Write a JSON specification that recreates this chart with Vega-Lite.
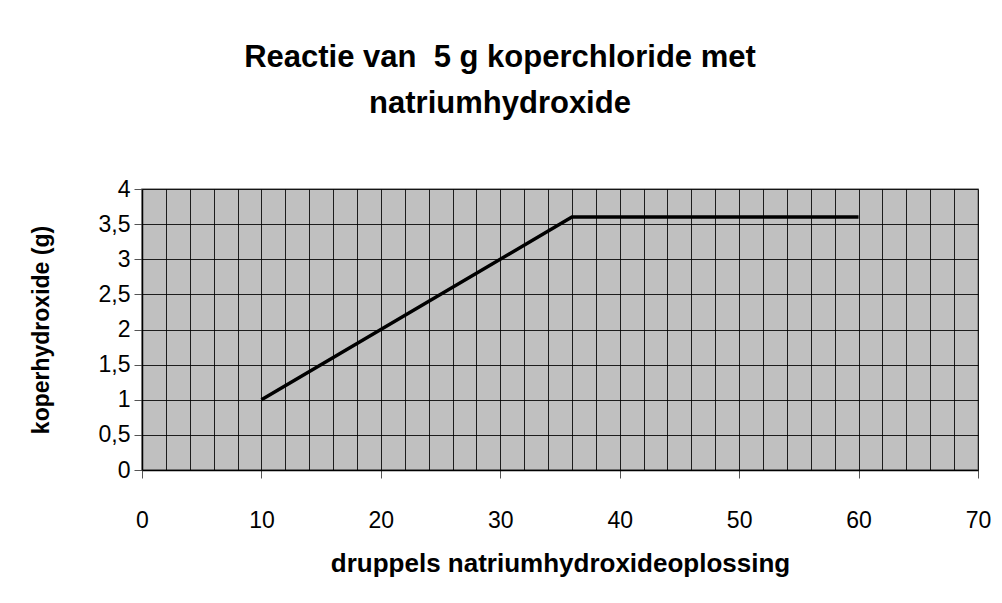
{
  "$schema": "https://vega.github.io/schema/vega-lite/v6.json",
  "width": 836,
  "height": 281,
  "autosize": {"type": "none"},
  "padding": {"left": 142, "top": 189, "right": 24, "bottom": 133},
  "background": "white",
  "config": {
    "font": "Liberation Sans",
    "view": {"fill": "#C0C0C0", "stroke": "#808080", "strokeWidth": 1.5}
  },
  "title": {
    "text": ["Reactie van \u00a05 g koperchloride met", "natriumhydroxide"],
    "fontSize": 31,
    "fontWeight": "bold",
    "color": "black",
    "font": "Liberation Sans",
    "lineHeight": 46,
    "anchor": "middle",
    "dx": -60,
    "offset": 58
  },
  "data": {
    "values": [
      {"druppels": 10, "koperhydroxide": 1},
      {"druppels": 36, "koperhydroxide": 3.6},
      {"druppels": 60, "koperhydroxide": 3.6}
    ]
  },
  "mark": {"type": "line", "color": "black", "strokeWidth": 3.5},
  "encoding": {
    "x": {
      "field": "druppels",
      "type": "quantitative",
      "scale": {"domain": [0, 70], "nice": false, "zero": false},
      "axis": {
        "title": "druppels natriumhydroxideoplossing",
        "titleFontSize": 26,
        "titleFontWeight": "bold",
        "titleColor": "black",
        "titlePadding": 18,
        "titleX": 418,
        "values": [0,2,4,6,8,10,12,14,16,18,20,22,24,26,28,30,32,34,36,38,40,42,44,46,48,50,52,54,56,58,60,62,64,66,68,70],
        "labelExpr": "datum.value % 10 === 0 ? datum.label : ''",
        "labelFontSize": 23,
        "labelColor": "black",
        "labelPadding": 31,
        "labelFlush": false,
        "labelOverlap": false,
        "tickSize": 8,
        "tickColor": "#555555",
        "tickOpacity": {"condition": {"test": "datum.value % 10 === 0", "value": 1}, "value": 0},
        "domainColor": "black",
        "domainWidth": 1.5,
        "grid": true,
        "gridColor": "black",
        "gridOpacity": 0.85,
        "gridWidth": 1
      }
    },
    "y": {
      "field": "koperhydroxide",
      "type": "quantitative",
      "scale": {"domain": [0, 4], "nice": false},
      "axis": {
        "title": "koperhydroxide (g)",
        "titleFontSize": 23,
        "titleFontWeight": "bold",
        "titleColor": "black",
        "titlePadding": 45,
        "values": [0, 0.5, 1, 1.5, 2, 2.5, 3, 3.5, 4],
        "labelExpr": "replace(format(datum.value, ''), '.', ',')",
        "labelFontSize": 23,
        "labelColor": "black",
        "labelPadding": 4,
        "labelFlush": false,
        "labelOverlap": false,
        "tickSize": 8,
        "tickColor": "#555555",
        "domainColor": "black",
        "domainWidth": 1.5,
        "grid": true,
        "gridColor": "black",
        "gridOpacity": 0.85,
        "gridWidth": 1
      }
    }
  }
}
